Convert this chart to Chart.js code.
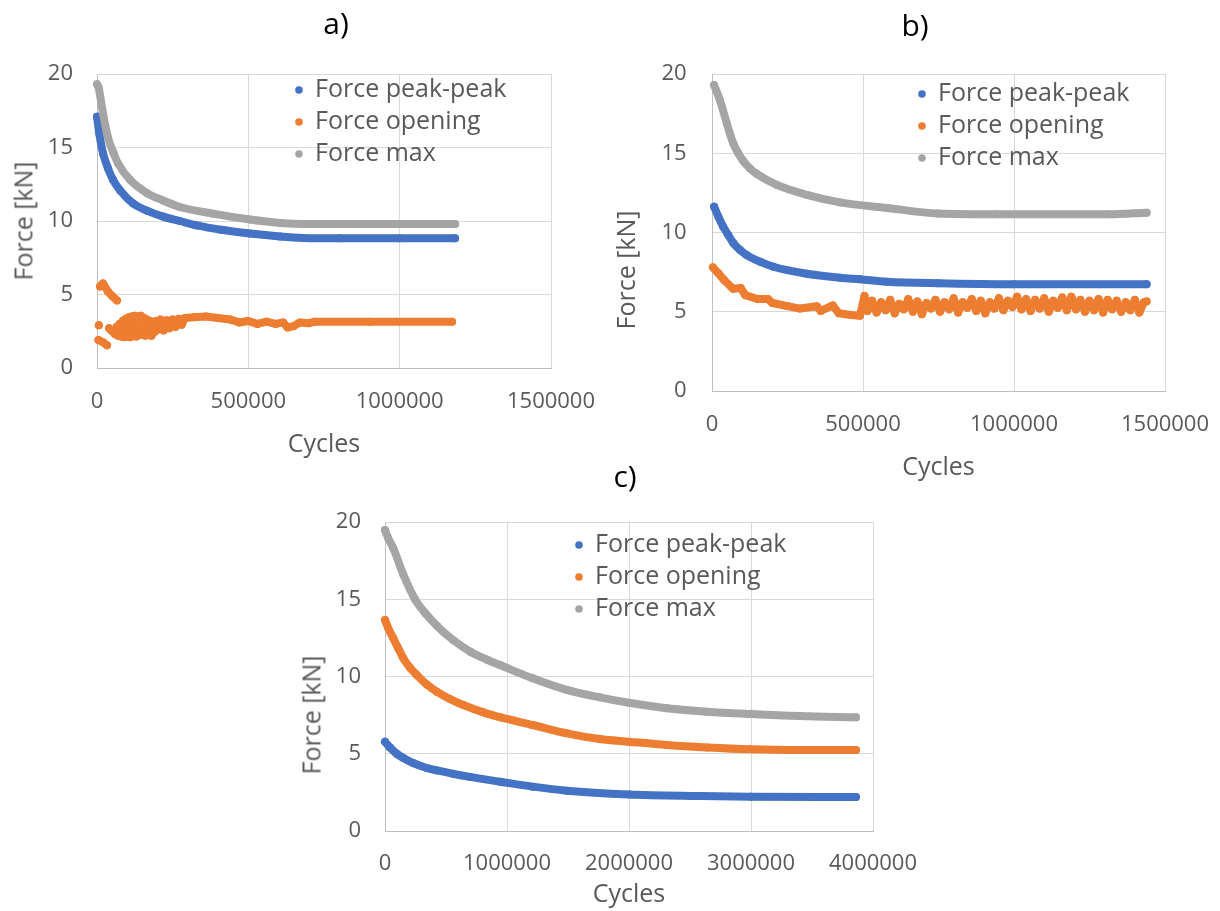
<!DOCTYPE html>
<html>
<head>
<meta charset="utf-8">
<title>Force vs cycles</title>
<script src="https://cdn.jsdelivr.net/npm/chart.js@4.4.1/dist/chart.umd.min.js"></script>
<style>
  body { margin: 0; background: #fff; }
  #page { position: relative; width: 1220px; height: 911px; overflow: hidden; font-family: 'Open Sans', sans-serif; }
  .panel { position: absolute; }
  .tag { position: absolute; font-size: 30px; line-height: 1; color: #000; transform: translate(-50%, -50%); white-space: nowrap; }
  .ytitle { position: absolute; font-size: 25px; line-height: 1; color: #595959; transform: translate(-50%, -50%) rotate(-90deg); white-space: nowrap; }
</style>
</head>
<body>
<div id="page">
  <div class="panel" style="left:0;top:0;width:600px;height:460px"><canvas id="chartA"></canvas></div>
  <div class="panel" style="left:600px;top:0;width:620px;height:485px"><canvas id="chartB"></canvas></div>
  <div class="panel" style="left:290px;top:455px;width:640px;height:456px"><canvas id="chartC"></canvas></div>

  <div class="tag" style="left:336px;top:23px">a)</div>
  <div class="tag" style="left:915px;top:25px">b)</div>
  <div class="tag" style="left:625px;top:476px">c)</div>

  <div class="ytitle" style="left:23px;top:221px">Force [kN]</div>
  <div class="ytitle" style="left:625px;top:270px">Force [kN]</div>
  <div class="ytitle" style="left:311px;top:715px">Force [kN]</div>
</div>

<script>
// ---- data: [cycles, force kN]; [0, null] breaks a trace
const aPeak = [[0,17.1],[8000,15.9],[20000,14.6],[36000,13.6],[53000,12.8],[76000,12.1],[119000,11.2],
  [165000,10.7],[218000,10.3],[274000,10.0],[330000,9.7],[410000,9.4],[505000,9.15],[605000,8.95],
  [680000,8.85],[800000,8.82],[1000000,8.82],[1183000,8.82]];
const aOpening = [[10000,5.55],[20000,5.75],[36000,5.2],[50000,4.9],[66000,4.6],[0,null],
  [6000,2.9],[0,null],
  [5000,1.9],[20000,1.75],[33000,1.55],[0,null],
  [40000,2.7],[50000,2.5],[60000,2.3],[65000,2.8],[70000,2.2],[75000,3.0],[80000,2.15],[85000,3.2],
  [90000,2.1],[95000,3.35],[100000,2.15],[105000,3.45],[110000,2.1],[115000,3.5],[120000,2.2],
  [125000,3.55],[130000,2.15],[135000,3.5],[140000,2.25],[145000,3.55],[150000,2.3],[155000,3.4],
  [160000,2.2],[165000,3.3],[170000,2.35],[175000,3.2],[180000,2.2],[185000,3.1],[190000,2.45],
  [195000,3.2],[200000,2.6],[210000,3.3],[220000,2.55],[230000,3.25],[240000,2.7],[250000,3.3],
  [260000,2.8],[270000,3.35],[280000,2.95],[290000,3.4],[320000,3.45],[360000,3.5],[400000,3.4],
  [440000,3.3],[470000,3.1],[500000,3.2],[530000,3.0],[560000,3.15],[590000,3.0],[615000,3.1],
  [630000,2.75],[650000,2.85],[670000,3.1],[700000,3.05],[720000,3.15],[900000,3.15],[1173000,3.15]];
const aMax = [[0,19.3],[5000,19.1],[20000,17.3],[36000,15.7],[55000,14.6],[70000,13.9],[109000,12.8],
  [165000,11.9],[218000,11.4],[274000,10.95],[383000,10.5],[505000,10.1],[605000,9.87],[684000,9.8],
  [900000,9.8],[1183000,9.8]];

const bPeak = [[7000,11.63],[21000,11.0],[37000,10.37],[54000,9.84],[71000,9.32],[93000,8.9],
  [115000,8.58],[159000,8.16],[203000,7.84],[314000,7.4],[424000,7.15],[490000,7.05],[579000,6.9],
  [748000,6.8],[1000000,6.74],[1439000,6.74]];
const bOpening = [[3000,7.8],[20000,7.45],[40000,7.0],[70000,6.45],[95000,6.5],[110000,6.05],
  [150000,5.8],[185000,5.8],[200000,5.55],[250000,5.35],[291000,5.2],[347000,5.35],[360000,5.05],
  [400000,5.4],[420000,4.9],[460000,4.8],[490000,4.75],
  [505000,6.0],[515000,5.05],[530000,5.7],[545000,4.95],[560000,5.6],[575000,5.1],[590000,5.75],
  [605000,4.9],[620000,5.5],[635000,5.15],[650000,5.8],[665000,5.0],[680000,5.65],[695000,4.85],
  [710000,5.55],[725000,5.2],[740000,5.75],[755000,5.0],[770000,5.6],[785000,5.15],[800000,5.85],
  [815000,4.95],[830000,5.6],[845000,5.25],[860000,5.8],[875000,5.05],[890000,5.7],[905000,4.9],
  [920000,5.6],[935000,5.2],[950000,5.85],[965000,5.1],[980000,5.7],[995000,5.3],[1010000,5.95],
  [1025000,5.15],[1040000,5.8],[1055000,5.05],[1070000,5.75],[1085000,5.2],[1100000,5.85],
  [1115000,5.0],[1130000,5.7],[1145000,5.25],[1160000,5.9],[1175000,5.1],[1190000,5.95],
  [1205000,5.15],[1220000,5.75],[1235000,5.0],[1250000,5.7],[1265000,5.1],[1280000,5.8],
  [1295000,4.95],[1310000,5.75],[1325000,5.15],[1340000,5.7],[1355000,5.0],[1370000,5.6],
  [1385000,5.1],[1400000,5.75],[1415000,4.95],[1430000,5.6],[1439000,5.65]];
const bMax = [[7000,19.3],[26000,18.36],[49000,16.89],[60000,16.2],[71000,15.6],[87000,15.0],
  [104000,14.5],[125000,14.05],[148000,13.7],[215000,13.0],[314000,12.37],[424000,11.9],[579000,11.55],
  [748000,11.2],[944000,11.15],[1315000,11.15],[1439000,11.25]];

const cPeak = [[0,5.78],[41000,5.4],[96000,5.0],[150000,4.72],[230000,4.4],[342000,4.08],[426000,3.92],
  [560000,3.7],[697000,3.5],[943000,3.19],[1210000,2.87],[1490000,2.61],[2000000,2.37],
  [2580000,2.27],[3000000,2.22],[3860000,2.2]];
const cOpening = [[0,13.66],[27000,13.12],[68000,12.47],[109000,11.82],[150000,11.18],[205000,10.57],
  [260000,10.1],[342000,9.49],[424000,9.02],[533000,8.54],[642000,8.16],[806000,7.68],[950000,7.35],
  [1210000,6.86],[1490000,6.32],[1760000,5.95],[2000000,5.78],[2310000,5.57],[2640000,5.41],
  [3000000,5.29],[3400000,5.24],[3860000,5.24]];
const cMax = [[0,19.48],[27000,18.94],[68000,18.3],[150000,16.6],[246000,15.0],[330000,14.1],
  [430000,13.25],[560000,12.35],[700000,11.6],[833000,11.1],[943000,10.74],[1210000,9.88],
  [1490000,9.13],[1760000,8.65],[2000000,8.3],[2310000,7.94],[2640000,7.72],[3000000,7.57],
  [3400000,7.44],[3860000,7.36]];

const seriesNames = ["Force peak-peak", "Force opening", "Force max"];
const yTicks = { min: 0, max: 20, step: 5 };

const palette = {
  peak: "#4472C4",
  opening: "#ED7D31",
  max: "#A5A5A5",
  text: "#595959",
  grid: "#d9d9d9",
  axis: "#bfbfbf"
};

Chart.defaults.font.family = "'Open Sans', sans-serif";
Chart.defaults.color = palette.text;

// legend sits inside the plot; move it to where the figure has it
function pinLegend(x, y) {
  return {
    id: "pinLegend",
    afterLayout(chart) {
      const lg = chart.legend;
      if (!lg) return;
      const w = lg.width, h = lg.height;
      lg.left = x; lg.top = y;
      lg.right = x + w + 20; lg.bottom = y + h + 20;
    }
  };
}

function trace(label, pts, color, order, smooth) {
  return {
    label,
    data: pts.map(([x, y]) => ({ x, y })),
    showLine: true,
    borderColor: color,
    backgroundColor: color,
    pointBackgroundColor: color,
    pointBorderWidth: 0,
    pointRadius: 4,
    pointHoverRadius: 4,
    borderWidth: 8,
    borderCapStyle: "round",
    borderJoinStyle: "round",
    cubicInterpolationMode: smooth ? "monotone" : "default",
    tension: 0,
    clip: false,
    order
  };
}

function forcePanel(canvasId, { peak, opening, max, openingSmooth, xMax, xStep, pad, yW, xH, labelDrop, tickPadY, titlePadB, legendAt }) {
  const el = document.getElementById(canvasId);
  return new Chart(el.getContext("2d"), {
    type: "scatter",
    data: {
      datasets: [
        trace(seriesNames[0], peak, palette.peak, 2, true),
        trace(seriesNames[1], opening, palette.opening, 1, openingSmooth),
        trace(seriesNames[2], max, palette.max, 0, true)
      ]
    },
    options: {
      responsive: true,
      maintainAspectRatio: false,
      animation: false,
      events: [],
      layout: { padding: pad },
      plugins: {
        legend: {
          position: "chartArea",
          align: "start",
          labels: {
            usePointStyle: true,
            pointStyle: "circle",
            boxWidth: 7,
            boxHeight: 5.4,
            padding: 7,
            color: palette.text,
            font: { size: 25 },
            sort: (a, b) => a.datasetIndex - b.datasetIndex
          }
        },
        tooltip: { enabled: false }
      },
      scales: {
        x: {
          type: "linear",
          min: 0, max: xMax,
          ticks: { stepSize: xStep, autoSkip: false, maxRotation: 0, padding: 3, color: palette.text,
                   font: { size: 22 }, callback: (v) => String(v) },
          // invisible tick marks push the labels down without widening the side padding
          grid: { color: palette.grid, drawTicks: true, tickLength: labelDrop - 3, tickColor: "rgba(0,0,0,0)" },
          border: { color: palette.axis },
          title: { display: true, text: "Cycles", color: palette.text, font: { size: 25 },
                   padding: { top: 0, bottom: titlePadB } },
          afterFit: (s) => { s.height = xH; }
        },
        y: {
          min: yTicks.min, max: yTicks.max,
          ticks: { stepSize: yTicks.step, padding: tickPadY, color: palette.text, font: { size: 22 } },
          grid: { color: palette.grid, drawTicks: false },
          border: { color: palette.axis },
          afterFit: (s) => { s.width = yW; }
        }
      }
    },
    plugins: [pinLegend(legendAt[0], legendAt[1])]
  });
}

forcePanel("chartA", {
  peak: aPeak, opening: aOpening, max: aMax, openingSmooth: false,
  xMax: 1500000, xStep: 500000,
  pad: { top: 74, right: 49, bottom: 0, left: 0 }, yW: 97, xH: 92,
  labelDrop: 20.8, tickPadY: 24, titlePadB: 0, legendAt: [288.5, 70.5]
});

forcePanel("chartB", {
  peak: bPeak, opening: bOpening, max: bMax, openingSmooth: false,
  xMax: 1500000, xStep: 500000,
  pad: { top: 74, right: 55, bottom: 0, left: 0 }, yW: 112, xH: 94,
  labelDrop: 20.8, tickPadY: 25.4, titlePadB: 2, legendAt: [311.5, 74.5]
});

forcePanel("chartC", {
  peak: cPeak, opening: cOpening, max: cMax, openingSmooth: true,
  xMax: 4000000, xStep: 1000000,
  pad: { top: 67, right: 57, bottom: 0, left: 0 }, yW: 95, xH: 80,
  labelDrop: 19.8, tickPadY: 24, titlePadB: 1, legendAt: [278.5, 70.5]
});
</script>
</body>
</html>
